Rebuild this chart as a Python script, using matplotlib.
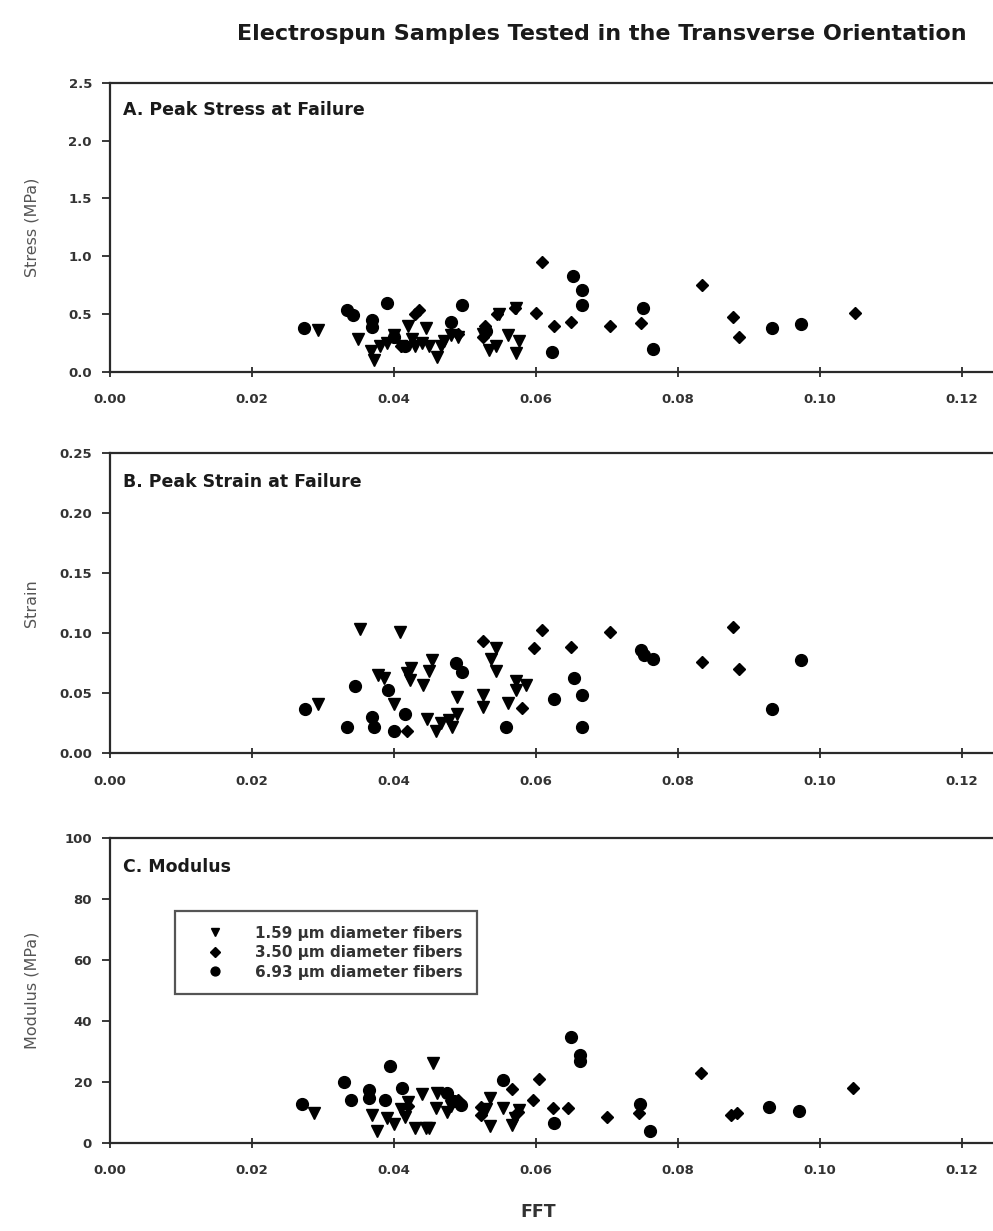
import matplotlib
matplotlib.use("Agg")
import matplotlib.pyplot as plt

plt.rcParams['font.family'] = ['DejaVu Sans']

# ---- Panel A: peak stress (MPa) ----
a_tri_x = [0.0293, 0.0350, 0.0367, 0.0372, 0.0380, 0.0390, 0.0400, 0.0410, 0.0420, 0.0425,
           0.0430, 0.0440, 0.0445, 0.0450, 0.0460, 0.0466, 0.0470, 0.0480, 0.0490, 0.0525,
           0.0534, 0.0544, 0.0548, 0.0560, 0.0572, 0.0576, 0.0572]
a_tri_y = [0.36, 0.28, 0.18, 0.10, 0.22, 0.25, 0.32, 0.22, 0.40, 0.28,
           0.22, 0.25, 0.38, 0.22, 0.13, 0.22, 0.27, 0.32, 0.30, 0.33,
           0.19, 0.22, 0.50, 0.32, 0.16, 0.27, 0.55]
a_dia_x = [0.0410, 0.0430, 0.0435, 0.0490, 0.0525, 0.0528, 0.0545, 0.0570, 0.0600, 0.0609,
           0.0626, 0.0649, 0.0704, 0.0748, 0.0834, 0.0878, 0.0886, 0.1049]
a_dia_y = [0.22, 0.50, 0.53, 0.33, 0.30, 0.40, 0.50, 0.55, 0.51, 0.95,
           0.40, 0.43, 0.40, 0.42, 0.75, 0.47, 0.30, 0.51]
a_cir_x = [0.0273, 0.0334, 0.0343, 0.0369, 0.0369, 0.0390, 0.0400, 0.0415, 0.0480, 0.0496,
           0.0530, 0.0623, 0.0652, 0.0665, 0.0665, 0.0751, 0.0765, 0.0933, 0.0973]
a_cir_y = [0.375, 0.534, 0.49, 0.447, 0.384, 0.597, 0.30, 0.22, 0.433, 0.577,
           0.35, 0.173, 0.828, 0.707, 0.577, 0.548, 0.20, 0.375, 0.41]

# ---- Panel B: peak strain ----
b_tri_x = [0.0352, 0.0408, 0.0293, 0.0378, 0.0386, 0.0400, 0.0424, 0.0419, 0.0422, 0.0453,
           0.0449, 0.0441, 0.0447, 0.0459, 0.0466, 0.0478, 0.0482, 0.0489, 0.0489, 0.0544,
           0.0537, 0.0544, 0.0525, 0.0525, 0.0560, 0.0572, 0.0586, 0.0572]
b_tri_y = [0.104, 0.101, 0.041, 0.065, 0.0625, 0.041, 0.071, 0.067, 0.061, 0.078,
           0.069, 0.057, 0.029, 0.019, 0.025, 0.028, 0.022, 0.047, 0.033, 0.0875,
           0.079, 0.069, 0.0485, 0.039, 0.042, 0.060, 0.057, 0.053]
b_dia_x = [0.0419, 0.0525, 0.0581, 0.0598, 0.0609, 0.0649, 0.0704, 0.0834, 0.0878, 0.0886]
b_dia_y = [0.019, 0.094, 0.0375, 0.0875, 0.103, 0.089, 0.101, 0.076, 0.105, 0.070]
b_cir_x = [0.0274, 0.0334, 0.0345, 0.0369, 0.0372, 0.0392, 0.0400, 0.0416, 0.0487, 0.0496,
           0.0558, 0.0625, 0.0653, 0.0665, 0.0665, 0.0748, 0.0753, 0.0765, 0.0933, 0.0973]
b_cir_y = [0.037, 0.022, 0.056, 0.0305, 0.022, 0.053, 0.019, 0.033, 0.075, 0.068,
           0.022, 0.045, 0.0625, 0.0485, 0.022, 0.086, 0.082, 0.079, 0.037, 0.078]

# ---- Panel C: modulus (MPa) ----
c_tri_x = [0.0288, 0.0369, 0.0376, 0.0390, 0.0400, 0.0410, 0.0415, 0.0420, 0.0430, 0.0440,
           0.0445, 0.0450, 0.0455, 0.0459, 0.0460, 0.0475, 0.0480, 0.0530, 0.0536, 0.0536,
           0.0553, 0.0567, 0.0570, 0.0576]
c_tri_y = [9.7, 9.1, 4.0, 8.0, 6.0, 11.0, 8.5, 13.5, 5.0, 15.9,
           5.0, 5.0, 26.1, 11.3, 16.5, 10.0, 12.0, 11.0, 14.6, 5.5,
           11.3, 5.8, 8.0, 10.7]
c_dia_x = [0.0420, 0.0490, 0.0522, 0.0522, 0.0567, 0.0575, 0.0596, 0.0605, 0.0624, 0.0645,
           0.0700, 0.0745, 0.0832, 0.0875, 0.0883, 0.1047]
c_dia_y = [12.0, 14.0, 11.8, 9.1, 17.5, 10.0, 14.2, 21.1, 11.3, 11.3,
           8.5, 9.7, 22.8, 9.1, 9.7, 17.9]
c_cir_x = [0.0270, 0.0329, 0.0339, 0.0365, 0.0365, 0.0388, 0.0395, 0.0412, 0.0475, 0.0485,
           0.0495, 0.0553, 0.0625, 0.0649, 0.0662, 0.0662, 0.0747, 0.0761, 0.0929, 0.0971]
c_cir_y = [12.7, 20.0, 14.0, 17.3, 14.6, 14.0, 25.2, 17.9, 16.2, 13.7,
           12.5, 20.6, 6.5, 34.6, 28.8, 26.8, 12.7, 4.0, 11.6, 10.5]

series_labels = ["1.59 \u03bcm diameter fibers",
                 "3.50 \u03bcm diameter fibers",
                 "6.93 \u03bcm diameter fibers"]

panels = [
    ("A. Peak Stress at Failure", "Stress (MPa)", (0, 2.5), [0.0, 0.5, 1.0, 1.5, 2.0, 2.5], "%.1f",
     (a_tri_x, a_tri_y), (a_dia_x, a_dia_y), (a_cir_x, a_cir_y)),
    ("B. Peak Strain at Failure", "Strain", (0, 0.25), [0.0, 0.05, 0.10, 0.15, 0.20, 0.25], "%.2f",
     (b_tri_x, b_tri_y), (b_dia_x, b_dia_y), (b_cir_x, b_cir_y)),
    ("C. Modulus", "Modulus (MPa)", (0, 100), [0, 20, 40, 60, 80, 100], "%d",
     (c_tri_x, c_tri_y), (c_dia_x, c_dia_y), (c_cir_x, c_cir_y)),
]

# axes boxes in figure fractions (left, bottom, width, height)
boxes = [
    (0.1108, 0.698, 0.8892, 0.2348),
    (0.1108, 0.388, 0.8892, 0.2438),
    (0.1108, 0.0717, 0.8892, 0.2473),
]

fig = plt.figure(figsize=(9.93, 12.31), dpi=100)
edge = "#2a2a2a"

for (title, ylab, ylim, yticks, fmt, tri, dia, cir), box in zip(panels, boxes):
    ax = fig.add_axes(box)
    h1, = ax.plot(tri[0], tri[1], ls="none", marker="v", ms=8.5, color="black", label=series_labels[0])
    h2, = ax.plot(dia[0], dia[1], ls="none", marker="D", ms=6.5, color="black", label=series_labels[1])
    h3, = ax.plot(cir[0], cir[1], ls="none", marker="o", ms=8.5, color="black", label=series_labels[2])

    ax.set_xlim(0, 0.1244)
    ax.set_ylim(*ylim)
    ax.set_xticks([0.0, 0.02, 0.04, 0.06, 0.08, 0.10, 0.12])
    ax.set_xticklabels(["%.2f" % v for v in [0.0, 0.02, 0.04, 0.06, 0.08, 0.10, 0.12]])
    ax.set_yticks(yticks)
    ax.set_yticklabels([fmt % v for v in yticks])

    for s in ["left", "bottom", "top"]:
        ax.spines[s].set_linewidth(1.6)
        ax.spines[s].set_color(edge)
    ax.spines["right"].set_visible(False)

    ax.tick_params(axis="x", direction="inout", length=7, width=1.3, pad=12, colors=edge,
                   labelsize=9.5)
    ax.tick_params(axis="y", direction="out", length=6, width=1.3, pad=7, colors=edge,
                   labelsize=9.5)
    for lbl in ax.get_xticklabels() + ax.get_yticklabels():
        lbl.set_fontweight("bold")
        lbl.set_color("#333333")

    ax.set_ylabel(ylab, fontsize=11.5, color="#555555")
    ax.yaxis.set_label_coords(-0.08, 0.5)

    ax.text(0.015, 0.905, title, transform=ax.transAxes, fontsize=12.5, fontweight="bold",
            va="center", ha="left", color="#1a1a1a")

    if title.startswith("C"):
        leg = ax.legend(handles=[h1, h2, h3], loc="upper left",
                        bbox_to_anchor=(175 / 993, 1 - 911 / 1231),
                        bbox_transform=fig.transFigure, frameon=True, fancybox=False,
                        prop={"weight": "bold", "size": 11}, markerscale=0.75,
                        handletextpad=0.9, borderpad=0.95, labelspacing=0.3,
                        borderaxespad=0, handlelength=3.4)
        leg.get_frame().set_edgecolor(edge)
        leg.get_frame().set_linewidth(1.6)
        for t in leg.get_texts():
            t.set_color("#333333")

fig.text(0.606, 0.972, "Electrospun Samples Tested in the Transverse Orientation",
         ha="center", va="center", fontsize=16, fontweight="bold", color="#1a1a1a")
fig.text(0.542, 0.008, "FFT", ha="center", va="bottom", fontsize=12.5, fontweight="bold",
         color="#333333")

fig.savefig("out.png", dpi=100)
